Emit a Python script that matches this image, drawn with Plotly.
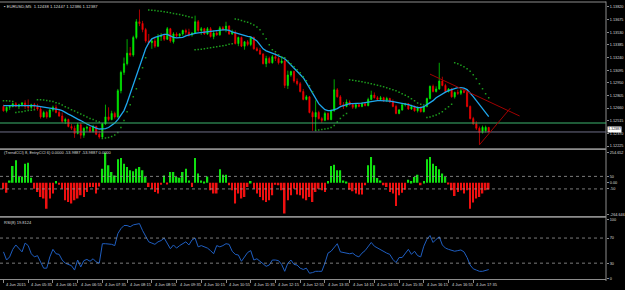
import sys
import pandas as pd
import plotly.graph_objects as go

# ---------------- data ----------------
symbol_title = "\u25aa EURUSD,M5  1.12438 1.12447 1.12386 1.12387"
cci_title = "(TrendCCI) 8, EntryCCI 6) 0.0000 -53.9887 -53.9887 0.0000"
rsi_title = "RSI(8) 19.8124"
start_time = "2015-06-04 04:55"

opens = [
    1.1268, 1.1263, 1.1267, 1.1268, 1.1271, 1.1268, 1.1270, 1.1272, 1.1268, 1.1267,
    1.1270, 1.1268, 1.1265, 1.1256, 1.1261, 1.1256, 1.1264, 1.1267, 1.1261, 1.1257,
    1.1251, 1.1253, 1.1245, 1.1243, 1.1237, 1.1247, 1.1235, 1.1243, 1.1244, 1.1239,
    1.1245, 1.1236, 1.1233, 1.1248, 1.1256, 1.1253, 1.1260, 1.1256, 1.1286, 1.1307,
    1.1317, 1.1329, 1.1327, 1.1347, 1.1365, 1.1363, 1.1356, 1.1343, 1.1341, 1.1343,
    1.1337, 1.1348, 1.1349, 1.1345, 1.1357, 1.1342, 1.1351, 1.1349, 1.1351, 1.1355,
    1.1353, 1.1350, 1.1352, 1.1365, 1.1355, 1.1357, 1.1351, 1.1357, 1.1348, 1.1352,
    1.1350, 1.1358, 1.1356, 1.1360, 1.1351, 1.1353, 1.1340, 1.1347, 1.1337, 1.1342,
    1.1339, 1.1347, 1.1334, 1.1332, 1.1328, 1.1317, 1.1323, 1.1318, 1.1325, 1.1323,
    1.1318, 1.1320, 1.1292, 1.1304, 1.1308, 1.1297, 1.1294, 1.1285, 1.1276, 1.1279,
    1.1261, 1.1256, 1.1261, 1.1254, 1.1252, 1.1260, 1.1253, 1.1263, 1.1287, 1.1279,
    1.1270, 1.1268, 1.1273, 1.1270, 1.1267, 1.1270, 1.1268, 1.1271, 1.1269, 1.1276,
    1.1281, 1.1278, 1.1276, 1.1278, 1.1275, 1.1277, 1.1273, 1.1268, 1.1260, 1.1264,
    1.1270, 1.1271, 1.1265, 1.1268, 1.1263, 1.1267, 1.1262, 1.1268, 1.1277, 1.1291,
    1.1285, 1.1288, 1.1297, 1.1292, 1.1285, 1.1288, 1.1279, 1.1284, 1.1283, 1.1286,
    1.1284, 1.1268, 1.1254, 1.1248, 1.1243, 1.1238, 1.1240, 1.12438,
]
highs = [
    1.1270, 1.1268, 1.1269, 1.1272, 1.1273, 1.1271, 1.1273, 1.1275, 1.1276, 1.1271,
    1.1272, 1.1271, 1.1268, 1.1263, 1.1263, 1.1265, 1.1269, 1.1270, 1.1265, 1.1261,
    1.1255, 1.1254, 1.1248, 1.1246, 1.1249, 1.1249, 1.1244, 1.1246, 1.1246, 1.1247,
    1.1246, 1.1240, 1.1249, 1.1270, 1.1267, 1.1263, 1.1262, 1.1288, 1.1309, 1.1324,
    1.1345, 1.1336, 1.1349, 1.1368, 1.1379, 1.1366, 1.1358, 1.1351, 1.1345, 1.1347,
    1.1351, 1.1352, 1.1351, 1.1359, 1.1358, 1.1353, 1.1353, 1.1352, 1.1356, 1.1357,
    1.1357, 1.1353, 1.1372, 1.1367, 1.1359, 1.1358, 1.1359, 1.1359, 1.1355, 1.1355,
    1.1360, 1.1360, 1.1365, 1.1361, 1.1356, 1.1355, 1.1348, 1.1348, 1.1343, 1.1344,
    1.1348, 1.1348, 1.1336, 1.1335, 1.1329, 1.1326, 1.1325, 1.1327, 1.1329, 1.1325,
    1.1324, 1.1323, 1.1309, 1.1309, 1.1309, 1.1300, 1.1296, 1.1288, 1.1281, 1.1280,
    1.1263, 1.1275, 1.1263, 1.1256, 1.1262, 1.1261, 1.1265, 1.1299, 1.1289, 1.1281,
    1.1273, 1.1276, 1.1275, 1.1272, 1.1272, 1.1272, 1.1273, 1.1273, 1.1278, 1.1286,
    1.1284, 1.1280, 1.1280, 1.1279, 1.1279, 1.1278, 1.1276, 1.1270, 1.1265, 1.1271,
    1.1272, 1.1272, 1.1270, 1.1269, 1.1268, 1.1268, 1.1269, 1.1278, 1.1292, 1.1293,
    1.1291, 1.1318, 1.1302, 1.1294, 1.1289, 1.1289, 1.1285, 1.1287, 1.1288, 1.1288,
    1.1287, 1.1269, 1.1256, 1.1251, 1.1245, 1.1246, 1.1246, 1.12447,
]
lows = [
    1.1262, 1.1261, 1.1264, 1.1267, 1.1267, 1.1265, 1.1268, 1.1265, 1.1264, 1.1265,
    1.1265, 1.1263, 1.1254, 1.1255, 1.1254, 1.1255, 1.1262, 1.1260, 1.1256, 1.1249,
    1.1248, 1.1244, 1.1241, 1.1232, 1.1236, 1.1231, 1.1232, 1.1239, 1.1238, 1.1238,
    1.1235, 1.1231, 1.1231, 1.1247, 1.1251, 1.1252, 1.1254, 1.1255, 1.1283, 1.1304,
    1.1315, 1.1325, 1.1325, 1.1345, 1.1360, 1.1353, 1.1341, 1.1339, 1.1334, 1.1335,
    1.1336, 1.1343, 1.1343, 1.1344, 1.1341, 1.1340, 1.1347, 1.1347, 1.1349, 1.1350,
    1.1348, 1.1348, 1.1351, 1.1353, 1.1350, 1.1350, 1.1350, 1.1347, 1.1345, 1.1349,
    1.1349, 1.1355, 1.1353, 1.1350, 1.1350, 1.1339, 1.1337, 1.1336, 1.1333, 1.1337,
    1.1337, 1.1333, 1.1331, 1.1327, 1.1316, 1.1313, 1.1317, 1.1317, 1.1320, 1.1316,
    1.1317, 1.1289, 1.1288, 1.1302, 1.1295, 1.1292, 1.1284, 1.1275, 1.1275, 1.1260,
    1.1240, 1.1240, 1.1253, 1.1249, 1.1251, 1.1252, 1.1252, 1.1262, 1.1278, 1.1269,
    1.1265, 1.1267, 1.1269, 1.1265, 1.1265, 1.1267, 1.1267, 1.1268, 1.1268, 1.1275,
    1.1277, 1.1275, 1.1275, 1.1273, 1.1273, 1.1272, 1.1267, 1.1259, 1.1259, 1.1263,
    1.1268, 1.1264, 1.1264, 1.1262, 1.1261, 1.1261, 1.1261, 1.1267, 1.1276, 1.1284,
    1.1284, 1.1287, 1.1291, 1.1284, 1.1284, 1.1278, 1.1277, 1.1281, 1.1281, 1.1283,
    1.1267, 1.1253, 1.1247, 1.1241, 1.1224, 1.1237, 1.1238, 1.12386,
]
closes = [
    1.1263, 1.1267, 1.1268, 1.1271, 1.1268, 1.1270, 1.1272, 1.1268, 1.1267, 1.1270,
    1.1268, 1.1265, 1.1256, 1.1261, 1.1256, 1.1264, 1.1267, 1.1261, 1.1257, 1.1251,
    1.1253, 1.1245, 1.1243, 1.1237, 1.1247, 1.1235, 1.1243, 1.1244, 1.1239, 1.1245,
    1.1236, 1.1233, 1.1248, 1.1256, 1.1253, 1.1260, 1.1256, 1.1286, 1.1307, 1.1317,
    1.1329, 1.1327, 1.1347, 1.1365, 1.1363, 1.1356, 1.1343, 1.1341, 1.1343, 1.1337,
    1.1348, 1.1349, 1.1345, 1.1357, 1.1343, 1.1351, 1.1349, 1.1351, 1.1355, 1.1353,
    1.1350, 1.1352, 1.1365, 1.1355, 1.1357, 1.1351, 1.1357, 1.1348, 1.1352, 1.1350,
    1.1358, 1.1356, 1.1360, 1.1351, 1.1353, 1.1340, 1.1347, 1.1337, 1.1342, 1.1339,
    1.1347, 1.1334, 1.1332, 1.1328, 1.1317, 1.1323, 1.1318, 1.1325, 1.1323, 1.1318,
    1.1320, 1.1292, 1.1304, 1.1308, 1.1297, 1.1294, 1.1285, 1.1276, 1.1279, 1.1261,
    1.1256, 1.1261, 1.1254, 1.1252, 1.1260, 1.1253, 1.1263, 1.1287, 1.1279, 1.1270,
    1.1268, 1.1273, 1.1270, 1.1267, 1.1270, 1.1268, 1.1271, 1.1269, 1.1276, 1.1281,
    1.1278, 1.1276, 1.1278, 1.1275, 1.1277, 1.1273, 1.1268, 1.1260, 1.1264, 1.1270,
    1.1271, 1.1265, 1.1268, 1.1263, 1.1267, 1.1262, 1.1268, 1.1277, 1.1291, 1.1285,
    1.1288, 1.1297, 1.1292, 1.1285, 1.1288, 1.1279, 1.1284, 1.1283, 1.1286, 1.1284,
    1.1268, 1.1254, 1.1248, 1.1243, 1.1238, 1.1244, 1.1244, 1.12387,
]
moving_average = [
    1.12689, 1.12689, 1.12689, 1.12689, 1.12689, 1.12689, 1.12695, 1.12695, 1.12689, 1.12689,
    1.12689, 1.12683, 1.12677, 1.12672, 1.12666, 1.12666, 1.12661, 1.12655, 1.12643, 1.12632,
    1.12609, 1.12592, 1.12575, 1.12552, 1.12535, 1.12518, 1.12495, 1.12478, 1.12461, 1.12442,
    1.12432, 1.12421, 1.12421, 1.12426, 1.12438, 1.12461, 1.12489, 1.12529, 1.12575, 1.12632,
    1.12723, 1.12826, 1.12917, 1.13032, 1.13146, 1.13249, 1.13340, 1.13408, 1.13454, 1.13471,
    1.13483, 1.13494, 1.13506, 1.13506, 1.13488, 1.13471, 1.13465, 1.13465, 1.13471, 1.13488,
    1.13500, 1.13511, 1.13517, 1.13523, 1.13528, 1.13534, 1.13534, 1.13540, 1.13545, 1.13551,
    1.13557, 1.13557, 1.13557, 1.13551, 1.13534, 1.13523, 1.13511, 1.13500, 1.13488, 1.13483,
    1.13477, 1.13454, 1.13431, 1.13386, 1.13340, 1.13317, 1.13306, 1.13294, 1.13277, 1.13260,
    1.13243, 1.13226, 1.13192, 1.13157, 1.13123, 1.13089, 1.13054, 1.13009, 1.12952, 1.12895,
    1.12826, 1.12769, 1.12712, 1.12677, 1.12643, 1.12632, 1.12632, 1.12643, 1.12655, 1.12677,
    1.12689, 1.12700, 1.12712, 1.12712, 1.12712, 1.12712, 1.12718, 1.12723, 1.12729, 1.12735,
    1.12746, 1.12746, 1.12746, 1.12746, 1.12746, 1.12741, 1.12735, 1.12729, 1.12723, 1.12712,
    1.12706, 1.12700, 1.12689, 1.12677, 1.12666, 1.12666, 1.12677, 1.12700, 1.12723, 1.12746,
    1.12780, 1.12803, 1.12826, 1.12843, 1.12860, 1.12872, 1.12883, 1.12895, 1.12895, 1.12889,
    1.12872, 1.12837, 1.12792, 1.12746, 1.12700, 1.12655, 1.12609, 1.12563,
]
parabolic_sar = [
    1.12746, 1.12746, 1.12741, 1.12735, 1.12609, 1.12615, 1.12620, 1.12626, 1.12632, 1.12637,
    1.12643, 1.12757, 1.12757, 1.12754, 1.12749, 1.12743, 1.12735, 1.12723, 1.12712, 1.12695,
    1.12677, 1.12661, 1.12643, 1.12626, 1.12609, 1.12592, 1.12575, 1.12558, 1.12540, 1.12529,
    1.12512, 1.12500, 1.12312, 1.12318, 1.12323, 1.12335, 1.12352, 1.12381, 1.12438, 1.12518,
    1.12620, 1.12700, 1.12792, 1.12883, 1.12997, 1.13123, 1.13237, 1.13785, 1.13782, 1.13778,
    1.13774, 1.13769, 1.13765, 1.13759, 1.13753, 1.13746, 1.13740, 1.13733, 1.13725, 1.13717,
    1.13708, 1.13698, 1.13328, 1.13332, 1.13335, 1.13340, 1.13346, 1.13351, 1.13357, 1.13363,
    1.13368, 1.13374, 1.13382, 1.13391, 1.13397, 1.13682, 1.13677, 1.13665, 1.13654, 1.13643,
    1.13631, 1.13614, 1.13591, 1.13557, 1.13511, 1.13454, 1.13386, 1.13328, 1.13306, 1.13271,
    1.13249, 1.13237, 1.13203, 1.13169, 1.13134, 1.13100, 1.13066, 1.13020, 1.12974, 1.12917,
    1.12849, 1.12403, 1.12409, 1.12415, 1.12421, 1.12426, 1.12438, 1.12461, 1.12500, 1.12540,
    1.12575, 1.12598, 1.12986, 1.12980, 1.12974, 1.12969, 1.12963, 1.12955, 1.12947, 1.12939,
    1.12931, 1.12922, 1.12913, 1.12904, 1.12894, 1.12883, 1.12872, 1.12858, 1.12843, 1.12826,
    1.12809, 1.12792, 1.12769, 1.12746, 1.12718, 1.12706, 1.12695, 1.12552, 1.12558, 1.12569,
    1.12581, 1.12598, 1.12620, 1.12649, 1.12677, 1.12706, 1.13180, 1.13169, 1.13152, 1.13134,
    1.13112, 1.13083, 1.13043, 1.12997, 1.12940, 1.12883, 1.12826, 1.12780,
]
cci_values = [
    -48, -80, 18, 132, 178, 45, 50, 150, 158, 40,
    -48, -74, -114, -127, -207, -127, -87, 13, -16, -48,
    -140, -154, -167, -140, -127, -100, -114, -74, -34, -34,
    -87, -30, 111, 238, 138, 85, 58, 186, 196, 150,
    124, 98, 90, 111, 124, 98, 45, -34, -48, -74,
    -87, -16, 58, -10, 85, 85, 45, 40, 85, 111,
    18, -34, 196, 72, 18, 5, 50, -61, -87, -87,
    106, 64, 64, -21, -61, -167, -87, -127, -114, -34,
    13, -48, -87, -114, -140, -154, -140, -100, -16, -21,
    -61, -246, -140, -100, -48, -95, -100, -127, -140, -114,
    -154, -74, -48, -61, -74, 13, 132, 143, 98, 98,
    18, 10, -56, -69, -87, -95, -95, -21, 138, 204,
    138, 37, 18, -21, -34, -74, -87, -186, -100, -80,
    -56, 24, 13, 45, 64, -21, 13, 186, 204, 150,
    132, 106, 72, 45, -10, -61, -106, -74, -61, -87,
    -61, -207, -159, -127, -114, -87, -61, -53.99,
]
rsi_values = [
    48, 35, 40, 52, 59, 53, 48, 62, 58, 45,
    40, 42, 32, 22, 22, 40, 52, 45, 44, 35,
    30, 28, 26, 19, 35, 24, 34, 36, 33, 37,
    32, 30, 61, 61, 61, 60, 58, 77, 85, 90,
    90, 88, 91, 92, 93, 82, 73, 64, 62, 60,
    64, 66, 70, 62, 53, 59, 54, 58, 61, 64,
    59, 67, 70, 56, 58, 56, 54, 50, 45, 58,
    56, 58, 61, 60, 49, 44, 43, 33, 40, 47,
    50, 35, 37, 33, 30, 25, 27, 35, 35, 34,
    28, 17, 30, 35, 28, 27, 22, 20, 22, 14,
    15, 17, 17, 17, 30, 46, 49, 56, 61, 48,
    47, 45, 45, 46, 42, 40, 46, 50, 56, 63,
    57, 54, 52, 49, 46, 44, 36, 31, 39, 39,
    45, 52, 44, 49, 42, 40, 57, 68, 74, 63,
    68, 72, 59, 54, 52, 51, 49, 50, 51, 48,
    39, 27, 21, 19, 17, 17, 18, 19.81,
]

price_ticks = [1.12225, 1.12370, 1.12515, 1.12660, 1.12805, 1.12950,
               1.13095, 1.13240, 1.13385, 1.13530, 1.13675, 1.13820]
cci_tick_vals = [240, 50, 0, -50, -252]
cci_tick_text = ["254.652", "50", "0.00", "-50", "-264.646"]
cci_levels = [50, -50]
rsi_tick_vals = [100, 70, 30, 6]
rsi_tick_text = ["100", "70", "30", "0"]
rsi_levels = [70, 30]
support_level = 1.12490
# drawn trend lines: (bar0, price0, bar1, price1)
trend_lines = [(138, 1.1305, 167, 1.1257), (154, 1.1224, 164, 1.1266)]

n = len(closes)
print("lengths", len(opens), len(highs), len(lows), len(closes),
      len(moving_average), len(parabolic_sar), len(cci_values), len(rsi_values), file=sys.stderr)

bars = list(range(n))
times = pd.date_range(start_time, periods=n, freq="5min")
label_bars = bars[::8]
label_text = [f"{times[0].day} {times[0]:%b %Y}"] + [f"{t.day} {t:%b %H:%M}" for t in times[8::8]]
bid = closes[-1]

# ---------------- figure ----------------
GREEN = "#00F000"
RED = "#F00000"
TXT = "#DCDCDC"
GRID = "#8C8C8C"
FONT = "Liberation Sans"

H_PLOT = 281.0  # plot-area height in px (290 - bottom margin)


def py(px):  # pixel row inside plot area -> paper fraction
    return 1 - px / H_PLOT


fig = go.Figure()

fig.add_trace(go.Candlestick(
    x=bars, open=opens, high=highs, low=lows, close=closes,
    increasing=dict(line=dict(color=GREEN, width=0.7), fillcolor=GREEN),
    decreasing=dict(line=dict(color=RED, width=0.7), fillcolor=RED),
    whiskerwidth=0, hoverinfo="skip", xaxis="x", yaxis="y"))

fig.add_trace(go.Scatter(x=bars, y=moving_average, mode="lines",
                         line=dict(color="#1EA6EC", width=1.3),
                         hoverinfo="skip", xaxis="x", yaxis="y"))

fig.add_trace(go.Scatter(x=bars, y=parabolic_sar, mode="markers",
                         marker=dict(color="#1C9A1C", size=1.5, symbol="square", line=dict(width=0)),
                         hoverinfo="skip", xaxis="x", yaxis="y"))

cci_pos = [v if v > 0 else None for v in cci_values]
cci_neg = [v if v < 0 else None for v in cci_values]
fig.add_trace(go.Bar(x=bars, y=cci_pos, width=0.5, marker=dict(color="#10E010", line=dict(width=0)),
                     hoverinfo="skip", xaxis="x", yaxis="y2"))
fig.add_trace(go.Bar(x=bars, y=cci_neg, width=0.5, marker=dict(color="#EE1010", line=dict(width=0)),
                     hoverinfo="skip", xaxis="x", yaxis="y2"))

fig.add_trace(go.Scatter(x=bars, y=rsi_values, mode="lines",
                         line=dict(color="#1F5EC0", width=1),
                         hoverinfo="skip", xaxis="x", yaxis="y3"))

shapes = []
# separators / frame
for ypx, w in [(1, 1.2), (148.6, 1.8), (216.6, 1.8), (279.5, 1.2)]:
    shapes.append(dict(type="line", xref="paper", yref="paper", x0=0, x1=1,
                       y0=py(ypx), y1=py(ypx), line=dict(color=GRID, width=w)))
shapes.append(dict(type="line", xref="paper", yref="paper", x0=1, x1=1, y0=py(281), y1=py(0.5),
                   line=dict(color=GRID, width=1)))
# support level and bid line
shapes.append(dict(type="line", xref="paper", yref="y", x0=0, x1=1, y0=support_level, y1=support_level,
                   line=dict(color="#3CB46E", width=1.2)))
shapes.append(dict(type="line", xref="paper", yref="y", x0=0, x1=1, y0=bid, y1=bid,
                   line=dict(color="#6E6E86", width=1)))
# trend lines
for b0, p0, b1, p1 in trend_lines:
    shapes.append(dict(type="line", xref="x", yref="y", x0=b0, x1=b1, y0=p0, y1=p1,
                       line=dict(color="#A00000", width=1)))
# indicator levels
for lv in cci_levels:
    shapes.append(dict(type="line", xref="paper", yref="y2", x0=0, x1=1, y0=lv, y1=lv,
                       line=dict(color="#9A9A9A", width=0.8, dash="dot")))
for lv in rsi_levels:
    shapes.append(dict(type="line", xref="paper", yref="y3", x0=0, x1=1, y0=lv, y1=lv,
                       line=dict(color="#9A9A9A", width=0.8, dash="dot")))

annotations = [
    dict(text=symbol_title, xref="paper", yref="paper", x=0.003, y=py(6), xanchor="left",
         yanchor="middle", showarrow=False, font=dict(size=4.2, color=TXT, family=FONT)),
    dict(text=cci_title, xref="paper", yref="paper", x=0.003, y=py(152.5), xanchor="left",
         yanchor="middle", showarrow=False, font=dict(size=4, color=TXT, family=FONT)),
    dict(text=rsi_title, xref="paper", yref="paper", x=0.003, y=py(222), xanchor="left",
         yanchor="middle", showarrow=False, font=dict(size=4, color=TXT, family=FONT)),
    dict(text=f"{bid:.5f}", xref="paper", yref="y", x=1.0, y=bid, xanchor="left", yanchor="middle",
         xshift=1, yshift=2.5, showarrow=False, bgcolor="#FFFFFF", borderpad=0.3,
         font=dict(size=3.5, color="#000000", family=FONT)),
]
for b, t in zip(label_bars, label_text):
    annotations.append(dict(text=t, xref="x", yref="paper", x=b, y=py(285), xanchor="left",
                            yanchor="middle", xshift=1, showarrow=False,
                            font=dict(size=4, color=TXT, family=FONT)))

axis_common = dict(showgrid=False, zeroline=False, side="right", anchor="x",
                   ticks="outside", ticklen=2, tickcolor=GRID, tickwidth=1,
                   tickfont=dict(size=3.8, color=TXT, family=FONT), showline=False,
                   fixedrange=True)

fig.update_layout(
    width=625, height=290,
    margin=dict(l=0, r=15, t=0, b=9),
    paper_bgcolor="#000000", plot_bgcolor="#000000",
    showlegend=False, barmode="overlay", boxgap=0.45,
    xaxis=dict(domain=[0, 1], range=[-1.125, 194.95], anchor="y3",
               showgrid=False, zeroline=False, showticklabels=False,
               tickmode="array", tickvals=label_bars, ticks="outside", ticklen=3,
               tickcolor=GRID, rangeslider=dict(visible=False), fixedrange=True),
    yaxis=dict(domain=[py(148), py(2)], range=[1.12198, 1.13865],
               tickmode="array", tickvals=price_ticks,
               ticktext=[f"{v:.5f}" for v in price_ticks], **axis_common),
    yaxis2=dict(domain=[py(216), py(150)], range=[-267.6, 256.5],
                tickmode="array", tickvals=cci_tick_vals, ticktext=cci_tick_text, **axis_common),
    yaxis3=dict(domain=[py(279), py(218)], range=[4.76, 101.6],
                tickmode="array", tickvals=rsi_tick_vals, ticktext=rsi_tick_text, **axis_common),
    shapes=shapes,
    annotations=annotations,
)

fig.write_html("out.html")
